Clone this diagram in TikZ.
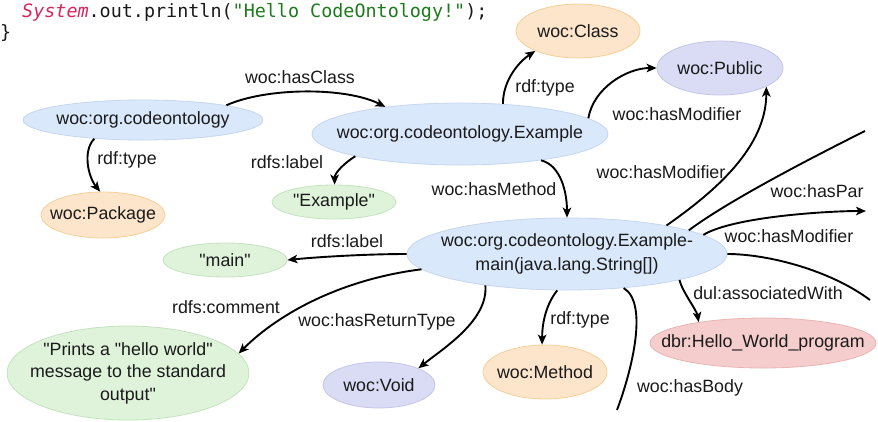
\documentclass[tikz,border=0pt]{standalone}
\usepackage{fontspec}
\setmainfont{Liberation Sans}[Ligatures=TeXOff]
\newfontfamily\codefont{DejaVu Sans Mono}[Ligatures=TeXOff]
\usetikzlibrary{shapes.geometric,arrows.meta}
\definecolor{bluef}{HTML}{DAE8FC}\definecolor{blued}{HTML}{C6D6EE}
\definecolor{orgf}{HTML}{FCE5CB}\definecolor{orgd}{HTML}{F3D098}
\definecolor{grnf}{HTML}{DFF3DB}\definecolor{grnd}{HTML}{C3E2BE}
\definecolor{purf}{HTML}{DADBF5}\definecolor{purd}{HTML}{C5C5E7}
\definecolor{redf}{HTML}{F6CDCD}\definecolor{redd}{HTML}{E9B4B4}
\definecolor{codered}{HTML}{D6265A}\definecolor{codegreen}{HTML}{1E7A1E}
\definecolor{txt}{HTML}{1A1A1A}
\begin{document}
\begin{tikzpicture}[x=1bp,y=-1bp,
  font=\fontsize{17.8bp}{22bp}\selectfont, text=txt,
  ell/.style={ellipse, inner sep=0pt, line width=0.8bp},
  blue/.style={ell, fill=bluef, draw=blued},
  org/.style={ell, fill=orgf, draw=orgd},
  grn/.style={ell, fill=grnf, draw=grnd},
  pur/.style={ell, fill=purf, draw=purd},
  rd/.style={ell, fill=redf, draw=redd},
  ntext/.style={inner sep=0pt, align=center},
  lbl/.style={inner sep=0pt},
  edge/.style={line width=1.9bp, draw=black},
  arr/.style={edge, -{Stealth[length=10bp,width=8.5bp,inset=2.5bp]}}]
\useasboundingbox (0,0) rectangle (878,421);

% code
\node[anchor=base west, inner sep=0pt] (code1) at (22,17)
  {\codefont\fontsize{18.4bp}{22bp}\selectfont\textcolor{codered}{\itshape System}.out.println(\textcolor{codegreen}{"Hello CodeOntology!"});};
\node[anchor=base west, inner sep=0pt] (code2) at (0,38)
  {\codefont\fontsize{18.4bp}{22bp}\selectfont \}};

% ellipses
\node[blue, minimum width=240bp, minimum height=40bp] (pkg) at (143,120) {};
\node[org, minimum width=124bp, minimum height=46bp] (package) at (103,215) {};
\node[blue, minimum width=296bp, minimum height=62bp] (ex) at (460,134) {};
\node[grn, minimum width=124bp, minimum height=34bp] (exlbl) at (334,202) {};
\node[org, minimum width=124bp, minimum height=54bp] (cls) at (578,31) {};
\node[pur, minimum width=126bp, minimum height=54bp] (pub) at (720,68) {};
\node[blue, minimum width=320bp, minimum height=72bp] (meth) at (567,254) {};
\node[grn, minimum width=124bp, minimum height=34bp] (mainlbl) at (225,260) {};
\node[grn, minimum width=242bp, minimum height=94bp] (cmt) at (128,373) {};
\node[pur, minimum width=112bp, minimum height=46bp] (void) at (379,385) {};
\node[org, minimum width=124bp, minimum height=54bp] (wmeth) at (545,372) {};
\node[rd, minimum width=226bp, minimum height=50bp] (dbr) at (763,343) {};

% node texts
\node[ntext] (pkgt) at (pkg) {woc:org.codeontology};
\node[ntext] (packaget) at (package) {woc:Package};
\node[ntext] (ext) at (ex) {woc:org.codeontology.Example};
\node[ntext] (exlblt) at (exlbl) {"Example"};
\node[ntext] (clst) at (cls) {woc:Class};
\node[ntext] (pubt) at (pub) {woc:Public};
\node[ntext, font=\fontsize{17.8bp}{24bp}\selectfont] (metht) at (meth) {woc:org.codeontology.Example-\\main(java.lang.String[])};
\node[ntext] (mainlblt) at (mainlbl) {"main"};
\node[ntext, font=\fontsize{17.8bp}{22.5bp}\selectfont] (cmtt) at (cmt) {"Prints a "hello world"\\message to the standard\\output"};
\node[ntext] (voidt) at (void) {woc:Void};
\node[ntext] (wmetht) at (wmeth) {woc:Method};
\node[ntext] (dbrt) at (dbr) {dbr:Hello\_World\_program};

% free ends
\coordinate (e8) at (865,131);
\coordinate (e9) at (866,211);
\coordinate (e10) at (870,300);
\coordinate (e12) at (617,410);

% edges
\draw[arr] (pkg.10) .. controls +(40,-18) and +(-40,-20) .. (ex.160);
\draw[arr] (pkg.201) .. controls +(-12,12) and +(-12,-15) .. (package.97);
\draw[arr] (ex.192) .. controls +(-10,6) and +(0,-12) .. (exlbl.88);
\draw[arr] (ex.35) .. controls +(0,-25) and +(-15,10) .. (cls.205);
\draw[arr] (ex.7) .. controls +(5,-30) and +(-30,0) .. (pub.180);
\draw[arr] (ex.-18) .. controls +(20,5) and +(0,-25) .. (meth.90);
\draw[arr] (meth.16) .. controls +(50,-35) and +(0,60) .. (pub.-22);
\draw[edge] (meth.11) .. controls +(40,-30) and +(-50,25) .. (e8);
\draw[arr] (meth.8) .. controls +(30,-18) and +(-40,0) .. (e9);
\draw[edge] (meth.0) .. controls +(40,0) and +(-40,-30) .. (e10);
\draw[arr] (meth.-13) .. controls +(3,12) and +(-2,-12) .. (dbr.162);
\draw[edge] (meth.-31) .. controls +(25,15) and +(15,-40) .. (e12);
\draw[arr] (meth.-105) .. controls +(-12,15) and +(0,-20) .. (wmeth.96);
\draw[arr] (meth.-159) .. controls +(3,35) and +(25,-20) .. (void.23);
\draw[arr] (meth.-174) .. controls +(-80,10) and +(40,-40) .. (cmt.10);
\draw[arr] (meth.180) .. controls +(-40,0) and +(30,-3) .. (mainlbl.0);

% edge labels
\node[lbl] (l1) at (300,77) {woc:hasClass};
\node[lbl] (l2) at (127,160) {rdf:type};
\node[lbl] (l3) at (287,162) {rdfs:label};
\node[lbl] (l4) at (545,88) {rdf:type};
\node[lbl] (l5) at (677,114) {woc:hasModifier};
\node[lbl] (l6) at (494,189) {woc:hasMethod};
\node[lbl] (l7) at (661,172) {woc:hasModifier};
\node[lbl] (l8) at (817,191) {woc:hasPar};
\node[lbl] (l9) at (789,236) {woc:hasModifier};
\node[lbl] (l10) at (768,293) {dul:associatedWith};
\node[lbl] (l11) at (690,388) {woc:hasBody};
\node[lbl] (l12) at (580,320) {rdf:type};
\node[lbl] (l13) at (377,322) {woc:hasReturnType};
\node[lbl] (l14) at (226,307) {rdfs:comment};
\node[lbl] (l15) at (347,241) {rdfs:label};
\end{tikzpicture}
\end{document}
